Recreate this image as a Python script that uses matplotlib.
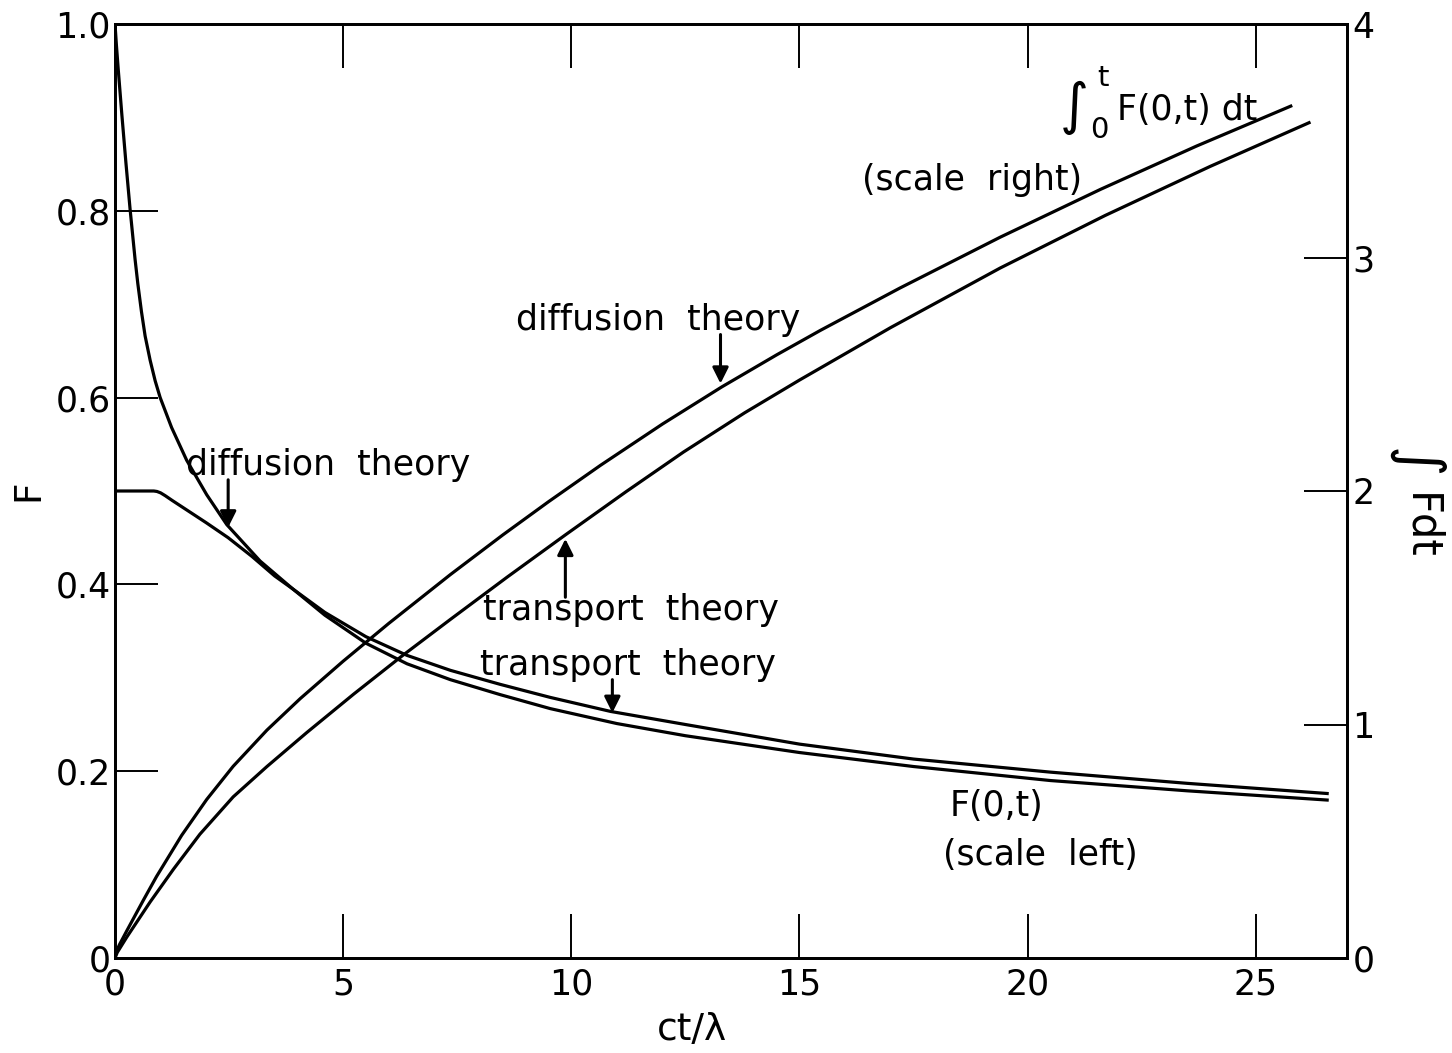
import matplotlib
matplotlib.use("Agg")
import matplotlib.pyplot as plt

plt.rcParams['font.family'] = ['DejaVu Sans']

# ---- data ----
t_fd = [0, 0.03, 0.07, 0.15, 0.24, 0.33, 0.44, 0.5, 0.58, 0.66, 0.77, 0.88, 0.99, 1.24,
        1.57, 2.01, 2.45, 3.18, 3.9, 4.6, 5.5, 6.4, 7.35, 8.44, 9.54, 11.0, 12.5, 15.0,
        17.5, 20.5, 23.5, 26.6]
F_diff = [1.0, 0.978, 0.952, 0.903, 0.851, 0.802, 0.748, 0.722, 0.692, 0.666, 0.640,
          0.618, 0.600, 0.568, 0.533, 0.496, 0.464, 0.425, 0.395, 0.367, 0.337, 0.315,
          0.298, 0.282, 0.267, 0.251, 0.238, 0.220, 0.205, 0.190, 0.179, 0.169]

t_ft = [0, 0.5, 0.85, 0.92, 1.0, 1.1, 1.25, 1.5, 2.0, 2.48, 3.0, 3.5, 3.9, 4.6, 5.5,
        6.4, 7.35, 8.44, 9.54, 10.86, 12.5, 15.0, 17.5, 20.5, 23.5, 26.6]
F_trans = [0.5, 0.5, 0.5, 0.4995, 0.498, 0.495, 0.490, 0.482, 0.466, 0.450, 0.430,
           0.409, 0.395, 0.370, 0.344, 0.324, 0.308, 0.293, 0.279, 0.264, 0.250, 0.229,
           0.213, 0.199, 0.187, 0.176]

t_id = [0, 0.03, 0.1, 0.26, 0.62, 0.91, 1.46, 2.01, 2.59, 3.33, 4.06, 5.0, 6.0, 7.35,
        8.5, 9.5, 10.64, 12.0, 13.3, 14.5, 15.46, 17.2, 19.4, 21.6, 23.7, 25.8]
I_diff = [0, 0.028, 0.058, 0.117, 0.247, 0.349, 0.525, 0.679, 0.821, 0.976, 1.111,
          1.271, 1.433, 1.642, 1.812, 1.954, 2.110, 2.287, 2.446, 2.583, 2.688, 2.869,
          3.087, 3.292, 3.477, 3.651]

t_it = [0, 0.05, 0.26, 0.77, 1.28, 1.86, 2.59, 3.33, 4.2, 5.23, 6.3, 7.35, 8.6, 9.87,
        11.2, 12.46, 13.8, 15.0, 17.0, 19.4, 21.7, 24.0, 26.2]
I_trans = [0, 0.024, 0.09, 0.24, 0.38, 0.53, 0.69, 0.82, 0.965, 1.13, 1.295, 1.45,
           1.632, 1.812, 1.997, 2.167, 2.335, 2.475, 2.70, 2.955, 3.18, 3.39, 3.58]

x_ticks = [0, 5, 10, 15, 20, 25]
x_labels = ['0', '5', '10', '15', '20', '25']
yl_ticks = [0, 0.2, 0.4, 0.6, 0.8, 1.0]
yl_labels = ['0', '0.2', '0.4', '0.6', '0.8', '1.0']
yr_ticks = [0, 1, 2, 3, 4]
yr_labels = ['0', '1', '2', '3', '4']

W, H = 1452, 1053


def fx(px):
    return px / W


def fy(py):
    return 1 - py / H


# ---- figure ----
fig = plt.figure(figsize=(W / 100, H / 100), dpi=100)
ax = fig.add_axes([fx(115), fy(958), (1347 - 115) / W, (958 - 24) / H])
ax2 = ax.twinx()

lw = 2.3
for a, xs, ys in ((ax, t_fd, F_diff), (ax, t_ft, F_trans),
                  (ax2, t_id, I_diff), (ax2, t_it, I_trans)):
    a.plot(xs, ys, color='black', lw=lw, solid_joinstyle='round',
           solid_capstyle='butt')

ax.set_xlim(0, 27)
ax.set_ylim(0, 1.0)
ax2.set_ylim(0, 4)

for a in (ax, ax2):
    for sp in a.spines.values():
        sp.set_linewidth(2.0)

ax.set_xticks(x_ticks)
ax.set_xticklabels(x_labels)
ax.set_yticks(yl_ticks)
ax.set_yticklabels(yl_labels)
ax2.set_yticks(yr_ticks)
ax2.set_yticklabels(yr_labels)

ax.tick_params(axis='x', direction='in', length=32, width=1.4, labelsize=25,
               top=True, bottom=True, pad=7)
ax.tick_params(axis='y', direction='in', length=31, width=1.4, labelsize=25,
               left=True, right=False, pad=3)
ax2.tick_params(axis='y', direction='in', length=31, width=1.4, labelsize=25,
                right=True, left=False, pad=4)

# axis labels
fig.text(fx(28), fy(490), 'F', fontsize=27, rotation=90, ha='center', va='center')
fig.text(fx(1415), fy(463), '∫', fontsize=42, rotation=-90, ha='center', va='center')
fig.text(fx(1420), fy(526), 'Fdt', fontsize=30, rotation=-90, ha='center', va='center')
fig.text(fx(692), fy(1030), 'ct/λ', fontsize=27, ha='center', va='center')

fs = 25
arrow = dict(arrowstyle='-|>', lw=2.2, color='black', mutation_scale=24,
             shrinkA=0, shrinkB=0)

fig.text(fx(186), fy(465), 'diffusion  theory', fontsize=fs, ha='left', va='center')
ax.annotate('', xy=(2.48, 0.461), xytext=(2.48, 0.512), arrowprops=arrow)

fig.text(fx(516), fy(320), 'diffusion  theory', fontsize=fs, ha='left', va='center')
ax2.annotate('', xy=(13.27, 2.46), xytext=(13.27, 2.67), arrowprops=arrow)

fig.text(fx(483), fy(610), 'transport  theory', fontsize=fs, ha='left', va='center')
ax2.annotate('', xy=(9.87, 1.795), xytext=(9.87, 1.545), arrowprops=arrow)

fig.text(fx(480), fy(665), 'transport  theory', fontsize=fs, ha='left', va='center')
ax.annotate('', xy=(10.9, 0.2625), xytext=(10.9, 0.298), arrowprops=arrow)

# integral label
fig.text(fx(1060), fy(108), '∫', fontsize=40, ha='left', va='center')
fig.text(fx(1090), fy(130), '0', fontsize=21, ha='left', va='center')
fig.text(fx(1097), fy(78), 't', fontsize=21, ha='left', va='center')
fig.text(fx(1117), fy(110), 'F(0,t) dt', fontsize=fs, ha='left', va='center')
fig.text(fx(862), fy(180), '(scale  right)', fontsize=fs, ha='left', va='center')
fig.text(fx(950), fy(806), 'F(0,t)', fontsize=fs, ha='left', va='center')
fig.text(fx(943), fy(855), '(scale  left)', fontsize=fs, ha='left', va='center')

fig.savefig('out.png', dpi=100, facecolor='white')
